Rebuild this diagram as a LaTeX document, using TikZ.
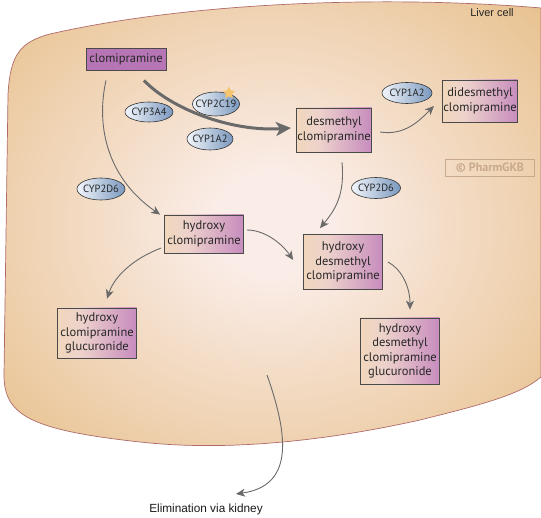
\documentclass[tikz,border=0pt]{standalone}
\usepackage{fontspec}
\setmainfont{PT Sans}
\newfontfamily\labelfont{Liberation Sans}
\usetikzlibrary{shapes.geometric,arrows.meta,calc}
\definecolor{cellin}{HTML}{FAECE6}
\definecolor{cellout}{HTML}{E7C08C}
\definecolor{cellborder}{HTML}{B06A6A}
\definecolor{byel}{HTML}{F6E0A2}
\definecolor{bmid}{HTML}{EDD2CB}
\definecolor{bpink}{HTML}{C78CBE}
\definecolor{bpur}{HTML}{9A4AA2}
\definecolor{clomfill}{HTML}{B676B5}
\definecolor{boxline}{HTML}{4A4A4A}
\definecolor{arrowgray}{HTML}{6A6A6A}
\definecolor{ellleft}{HTML}{F2F6FB}
\definecolor{ellright}{HTML}{7A98BE}
\definecolor{wm}{HTML}{C9A98C}
\definecolor{starcol}{HTML}{F6C46C}
\pgfdeclareradialshading{cellshade}{\pgfpoint{0bp}{0bp}}{color(0bp)=(cellin); color(6bp)=(cellin); color(36bp)=(cellout); color(50bp)=(cellout)}
\pgfdeclarehorizontalshading{boxshade}{100bp}{color(0bp)=(byel); color(40bp)=(bmid); color(75bp)=(bpink); color(100bp)=(bpur)}
\tikzset{
  metab/.style={shading=boxshade, draw=boxline, line width=0.7pt, align=center, inner sep=1pt, font=\fontsize{12.5}{14.5}\selectfont, text=black!85},
  enzyme/.style={ellipse, left color=ellleft, right color=ellright, draw=black!80, line width=0.6pt, inner xsep=-6pt, inner ysep=-3pt, font=\fontsize{10.5}{12}\selectfont, text=black!85},
  thinarrow/.style={draw=arrowgray, line width=0.9pt, -{Stealth[length=9pt,width=8pt,inset=2.5pt]}},
  bigarrow/.style={draw=arrowgray, line width=3pt, -{Stealth[length=15pt,width=14pt,inset=4pt]}}
}
\begin{document}
\begin{tikzpicture}[x=1pt,y=-1pt]
\useasboundingbox (0,0) rectangle (541,518);
% cell
\path[draw=cellborder, line width=0.7pt, shading=cellshade]
  (541,8) .. controls (400,-4) and (200,0) .. (50,34)
  .. controls (20,42) and (10,55) .. (8,95)
  -- (4,375) .. controls (4,415) and (30,430) .. (140,442)
  .. controls (230,452) and (330,440) .. (420,420)
  .. controls (480,405) and (520,395) .. (541,377) -- cycle;
\node[font=\labelfont\fontsize{11}{12}\selectfont, text=black!85] (liver) at (492,13) {Liver cell};
\node[draw=wm, line width=1.2pt, text=wm, font=\bfseries\fontsize{12}{13}\selectfont, minimum width=89pt, minimum height=17pt, inner sep=0pt] (wmark) at (490,168) {© PharmGKB};
% metabolites
\node[fill=clomfill, draw=boxline, line width=0.8pt, minimum width=80pt, minimum height=22pt, inner sep=1pt, font=\fontsize{12.5}{14.5}\selectfont, text=black!85] (clom) at (126,59) {clomipramine};
\node[metab, minimum width=72pt, minimum height=44pt] (desm) at (334,130) {desmethyl\\clomipramine};
\node[metab, minimum width=75pt, minimum height=42pt] (dides) at (480,101) {didesmethyl\\clomipramine};
\node[metab, minimum width=79pt, minimum height=38pt] (hcl) at (204,234) {hydroxy\\clomipramine};
\node[metab, minimum width=79pt, minimum height=55pt] (hdc) at (343,262) {hydroxy\\desmethyl\\clomipramine};
\node[metab, minimum width=79pt, minimum height=50pt] (hclg) at (97,333) {hydroxy\\clomipramine\\glucuronide};
\node[metab, minimum width=79pt, minimum height=66pt] (hdcg) at (400,351) {hydroxy\\desmethyl\\clomipramine\\glucuronide};
% enzymes
\node[enzyme, minimum width=48pt, minimum height=20pt] (e3a4) at (149,112) {CYP3A4};
\node[enzyme, minimum width=47pt, minimum height=24pt] (e2c19) at (216,104) {CYP2C19};
\node[star, star points=5, star point ratio=2, fill=starcol, minimum size=13pt, inner sep=0pt] (starmark) at (229,93) {};
\node[enzyme, minimum width=46pt, minimum height=22pt] (e1a2a) at (210,139) {CYP1A2};
\node[enzyme, minimum width=50pt, minimum height=21pt] (e1a2b) at (407,93) {CYP1A2};
\node[enzyme, minimum width=48pt, minimum height=22pt] (e2d6a) at (101,189) {CYP2D6};
\node[enzyme, minimum width=49pt, minimum height=21pt] (e2d6b) at (376,188) {CYP2D6};
% elimination
\node[font=\labelfont\fontsize{11.8}{13}\selectfont, text=black!90] (elim) at (206,509) {Elimination via kidney};
% arrows
\draw[bigarrow] ($(clom.south)+(18,10)$) .. controls (170,108) and (230,132) .. ($(desm.west)+(-5,-2)$);
\draw[thinarrow] ($(clom.south)+(-20,10)$) .. controls (95,130) and (110,180) .. ($(hcl.north west)+(-4,0)$);
\draw[thinarrow] ($(desm.east)+(8,2)$) .. controls (405,136) and (420,120) .. ($(dides.west)+(-8,5)$);
\draw[thinarrow] ($(desm.south)+(8,10)$) .. controls (345,195) and (335,210) .. ($(hdc.north)+(-23,-6)$);
\draw[thinarrow] ($(hcl.east)+(3,-4)$) .. controls (266,230) and (283,245) .. ($(hdc.west)+(-10,-2)$);
\draw[thinarrow] ($(hcl.west)+(-3,14)$) .. controls (135,258) and (115,275) .. ($(hclg.north)+(10,-9)$);
\draw[thinarrow] ($(hdc.east)+(5,0)$) .. controls (400,268) and (410,285) .. ($(hdcg.north)+(10,-8)$);
\draw[thinarrow] (267,375) .. controls (290,440) and (292,486) .. ($(elim.north)+(30,-6)$);
\end{tikzpicture}
\end{document}
